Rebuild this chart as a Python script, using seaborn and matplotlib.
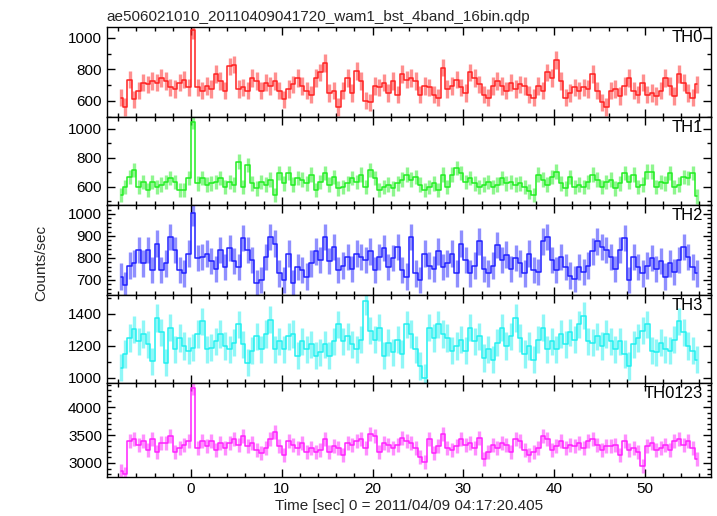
import numpy as np
import matplotlib
matplotlib.use("Agg")
import matplotlib.pyplot as plt
from matplotlib.ticker import MultipleLocator
import seaborn as sns

# light curve, 0.5 s bins (counts/sec)
t_start = -7.75
bin_width = 0.5

th0 = [620, 560, 735, 610, 665, 715, 705, 725, 715, 745, 725, 685, 675, 715, 735, 685,
       1050, 685, 665, 695, 675, 770, 725, 665, 820, 830, 675, 685, 665, 745, 725, 665,
       715, 695, 725, 665, 610, 675, 705, 745, 695, 665, 640, 745, 780, 840, 650, 665,
       560, 665, 745, 650, 790, 725, 600, 590, 695, 685, 715, 650, 725, 640, 770, 735,
       745, 725, 640, 695, 685, 640, 620, 810, 675, 695, 735, 685, 650, 780, 745, 705,
       640, 620, 695, 725, 695, 665, 715, 675, 705, 695, 640, 620, 695, 665, 780, 745,
       860, 725, 620, 650, 685, 665, 685, 675, 770, 665, 590, 560, 665, 675, 630, 695,
       745, 665, 640, 715, 640, 650, 630, 665, 745, 695, 630, 770, 715, 650, 620, 705]

th1 = [545, 600, 670, 715, 600, 635, 580, 635, 600, 615, 635, 660, 635, 580, 580, 660,
       1050, 625, 660, 615, 625, 635, 660, 600, 635, 615, 775, 600, 750, 625, 590, 635,
       615, 650, 545, 695, 625, 695, 615, 660, 650, 625, 685, 580, 635, 695, 615, 670,
       590, 600, 625, 660, 635, 685, 600, 715, 660, 580, 600, 615, 590, 625, 650, 685,
       650, 670, 615, 580, 600, 625, 580, 685, 600, 685, 730, 695, 635, 660, 625, 600,
       615, 635, 600, 615, 660, 625, 635, 615, 625, 600, 570, 545, 685, 650, 615, 670,
       705, 625, 590, 670, 600, 615, 600, 635, 685, 650, 600, 635, 650, 590, 625, 695,
       635, 685, 600, 615, 705, 705, 600, 635, 625, 695, 600, 615, 670, 660, 695, 535]

th2 = [715, 675, 765, 775, 835, 775, 835, 745, 865, 745, 775, 895, 835, 745, 730, 820,
       1005, 800, 805, 820, 785, 750, 835, 760, 845, 785, 760, 890, 835, 790, 685, 700,
       805, 895, 865, 730, 700, 820, 685, 760, 745, 715, 775, 830, 790, 895, 785, 850,
       745, 765, 805, 750, 820, 805, 790, 830, 745, 805, 845, 760, 800, 850, 745, 715,
       895, 730, 700, 820, 765, 750, 830, 760, 775, 820, 730, 865, 790, 730, 765, 875,
       750, 730, 765, 860, 790, 815, 750, 800, 775, 730, 820, 745, 735, 875, 895, 790,
       745, 805, 760, 720, 705, 760, 735, 765, 830, 875, 850, 835, 805, 750, 835, 890,
       700, 805, 760, 730, 765, 800, 750, 785, 715, 775, 735, 790, 850, 805, 760, 730]

th3 = [1065, 1150, 1250, 1305, 1230, 1275, 1210, 1105, 1375, 1285, 1095, 1315, 1180, 1250, 1200, 1170,
       1190, 1275, 1355, 1180, 1190, 1230, 1275, 1200, 1180, 1220, 1335, 1210, 1095, 1170, 1260, 1180,
       1275, 1365, 1180, 1230, 1180, 1260, 1275, 1140, 1230, 1180, 1210, 1140, 1160, 1210, 1140, 1230,
       1335, 1230, 1260, 1210, 1180, 1240, 1480, 1295, 1240, 1315, 1140, 1220, 1160, 1240, 1150, 1335,
       1275, 1180, 1075, 1000, 1315, 1250, 1335, 1275, 1250, 1170, 1200, 1240, 1170, 1315, 1230, 1260,
       1125, 1180, 1115, 1220, 1315, 1200, 1260, 1375, 1250, 1150, 1200, 1115, 1240, 1315, 1180, 1230,
       1180, 1275, 1210, 1285, 1240, 1335, 1390, 1230, 1220, 1260, 1200, 1275, 1230, 1180, 1230, 1150,
       1075, 1210, 1250, 1295, 1335, 1170, 1160, 1220, 1180, 1170, 1240, 1355, 1285, 1200, 1170, 1115]

th0123 = [2865, 2800, 3390, 3420, 3325, 3390, 3235, 3420, 3205, 3360, 3360, 3480, 3205, 3265, 3325, 3390,
          4345, 3265, 3390, 3295, 3390, 3235, 3360, 3265, 3360, 3420, 3325, 3480, 3295, 3360, 3235, 3175,
          3265, 3420, 3545, 3295, 3140, 3390, 3325, 3265, 3360, 3205, 3265, 3205, 3235, 3420, 3205, 3295,
          3265, 3140, 3360, 3325, 3390, 3420, 3265, 3510, 3480, 3205, 3360, 3325, 3265, 3325, 3450, 3390,
          3360, 3265, 3110, 3020, 3420, 3175, 3295, 3510, 3265, 3235, 3295, 3420, 3325, 3360, 3265, 3450,
          3080, 3205, 3325, 3265, 3360, 3325, 3205, 3420, 3390, 3235, 3140, 3205, 3265, 3480, 3420, 3235,
          3295, 3390, 3265, 3325, 3295, 3360, 3265, 3390, 3420, 3325, 3235, 3295, 3295, 3325, 3140, 3390,
          3235, 3265, 3205, 2955, 3295, 3360, 3235, 3265, 3325, 3235, 3390, 3420, 3325, 3390, 3265, 3080]

band_names = ["TH0", "TH1", "TH2", "TH3", "TH0123"]
band_errors = [55, 50, 60, 85, 125]  # typical 1-sigma error per bin
band_colors = ["#ff2020", "#20ee20", "#2020ff", "#20f0f0", "#ff20ff"]
band_ylims = [(498, 1070), (476, 1083), (632, 1041), (969, 1519), (2750, 4430)]
band_major = [200, 200, 100, 200, 500]
band_minor = [100, 100, 20, 100, 100]

series = [th0, th1, th2, th3, th0123]
t = t_start + bin_width * np.arange(len(th0))

sns.set_theme(style="ticks")
plt.rcParams["font.family"] = ["Liberation Sans", "DejaVu Sans"]

fig = plt.figure(figsize=(7.17, 5.16), dpi=100)
gs = fig.add_gridspec(5, 1, left=0.149, right=0.992, top=0.948, bottom=0.0756,
                      hspace=0, height_ratios=[90, 88, 90, 88, 94])

axes = []
for i in range(5):
    ax = fig.add_subplot(gs[i], sharex=axes[0] if axes else None)
    axes.append(ax)
    y = np.array(series[i])
    ax.errorbar(t, y, yerr=band_errors[i], fmt="none", ecolor=band_colors[i],
                elinewidth=2.4, alpha=0.5, capsize=0)
    sns.lineplot(x=t, y=y, ax=ax, color=band_colors[i], linewidth=1.1,
                 drawstyle="steps-mid", errorbar=None)
    ax.set_ylim(*band_ylims[i])
    ax.set_xlim(-9.26, 57.3)
    ax.yaxis.set_major_locator(MultipleLocator(band_major[i]))
    ax.yaxis.set_minor_locator(MultipleLocator(band_minor[i]))
    ax.xaxis.set_major_locator(MultipleLocator(10))
    ax.xaxis.set_minor_locator(MultipleLocator(2))
    ax.tick_params(which="both", direction="in", top=True, right=True,
                   colors="black", labelsize=11, width=1)
    ax.tick_params(which="major", length=6)
    ax.tick_params(which="minor", length=3)
    for sp in ax.spines.values():
        sp.set_color("black")
        sp.set_linewidth(1)
    ax.set_ylabel("")
    ax.set_xlabel("")
    ax.text(0.986, 0.965, band_names[i], transform=ax.transAxes, ha="right", va="top",
            fontsize=12, color="black")
    if i < 4:
        ax.tick_params(labelbottom=False)
    # drop labels that would sit on the panel edges
    ticks = [v for v in ax.get_yticks() if band_ylims[i][0] < v < band_ylims[i][1]]
    ax.set_yticks(ticks)

axes[0].set_title("ae506021010_20110409041720_wam1_bst_4band_16bin.qdp",
                  loc="left", fontsize=11, pad=4)
axes[-1].set_xlabel("Time [sec] 0 = 2011/04/09 04:17:20.405", fontsize=11, labelpad=2)
fig.text(0.058, 0.49, "Counts/sec", rotation=90, ha="center", va="center", fontsize=11)

fig.savefig("out.png", dpi=100, facecolor="white")
